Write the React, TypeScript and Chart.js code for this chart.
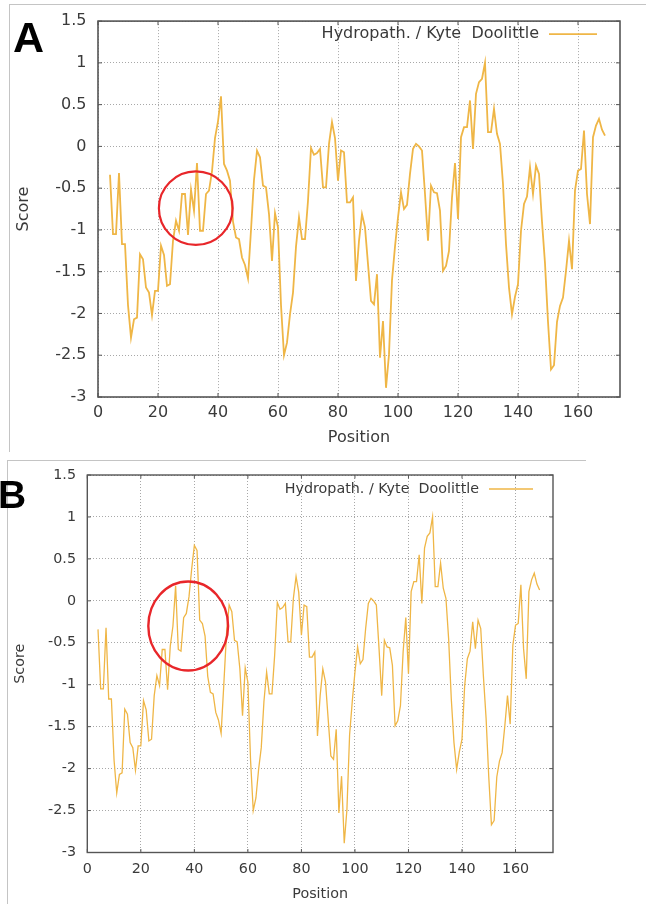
import React, { useEffect, useRef } from 'react';
import { Chart, registerables } from 'chart.js';

Chart.register(...registerables);

// ---------------- data ----------------
const FIRST_POSITION = 4;
const X_MAX = 174;
const xTickValues = [0, 20, 40, 60, 80, 100, 120, 140, 160];
const yTickValues = [-3, -2.5, -2, -1.5, -1, -0.5, 0, 0.5, 1, 1.5];
const LEGEND_LABEL = 'Hydropath. / Kyte  Doolittle';
const X_TITLE = 'Position';
const Y_TITLE = 'Score';

// positions 4..27 (same in both panels)
const headScores = [
  -0.34, -1.05, -1.05, -0.32, -1.17, -1.17, -1.9, -2.29, -2.07, -2.05,
  -1.29, -1.35, -1.69, -1.75, -2.02, -1.73, -1.73, -1.19, -1.3, -1.67,
  -1.65, -1.13, -0.89, -1.01,
];
// positions 28..44 (panel A)
const regionScoresA = [
  -0.57, -0.57, -1.06, -0.52, -0.77, -0.2, -1.01, -1.01, -0.57, -0.53,
  -0.3, 0.1, 0.3, 0.6, -0.21, -0.29, -0.41,
];
// positions 28..44 (panel B)
const regionScoresB = [
  -0.58, -0.58, -1.06, -0.54, -0.3, 0.18, -0.58, -0.6, -0.2, -0.15,
  0.05, 0.38, 0.66, 0.6, -0.23, -0.27, -0.42,
];
// positions 45..169 (same in both panels)
const tailScores = [
  -0.9, -1.09, -1.11, -1.33, -1.42, -1.58, -1.0, -0.4, -0.05, -0.13,
  -0.47, -0.49, -0.81, -1.37, -0.8, -0.97, -1.9, -2.5, -2.35, -2.01,
  -1.75, -1.2, -0.85, -1.11, -1.11, -0.65, -0.02, -0.1, -0.08, -0.03,
  -0.49, -0.49, 0.03, 0.29, 0.1, -0.41, -0.05, -0.07, -0.67, -0.67,
  -0.61, -1.61, -1.13, -0.81, -0.97, -1.41, -1.85, -1.89, -1.53, -2.53,
  -2.09, -2.89, -2.49, -1.6, -1.2, -0.85, -0.55, -0.75, -0.7, -0.33,
  -0.03, 0.03, 0.0, -0.05, -0.57, -1.13, -0.47, -0.55, -0.56, -0.77,
  -1.49, -1.43, -1.25, -0.61, -0.2, -0.87, 0.11, 0.23, 0.23, 0.55,
  -0.03, 0.63, 0.77, 0.81, 1.0, 0.17, 0.17, 0.45, 0.15, 0.03,
  -0.45, -1.17, -1.69, -2.01, -1.8, -1.65, -1.01, -0.69, -0.6, -0.25,
  -0.57, -0.23, -0.33, -0.9, -1.4, -2.1, -2.67, -2.62, -2.1, -1.91,
  -1.81, -1.49, -1.13, -1.47, -0.53, -0.29, -0.27, 0.19, -0.57, -0.93,
  0.11, 0.25, 0.33, 0.2, 0.13,
];

const scoresA = [...headScores, ...regionScoresA, ...tailScores];
const scoresB = [...headScores, ...regionScoresB, ...tailScores];

// highlighted regions (data units: centre position/score, radii in position/score units)
const highlightA = { x: 32.6, y: -0.74, rx: 12.3, ry: 0.44 };
const highlightB = { x: 37.7, y: -0.3, rx: 14.9, ry: 0.53 };

// ---------------- styles / layout ----------------
const FONT = "'DejaVu Sans', 'Noto Sans', sans-serif";
const TEXT_COLOR = '#3a3a3a';
const LINE_COLOR = '#EFB646';
const GRID_COLOR = '#a8a8a8';
const BORDER_COLOR = '#555555';
const CIRCLE_COLOR = '#e8262a';

type PanelSpec = {
  key: string;
  left: number;
  top: number;
  width: number;
  height: number;
  scores: number[];
  highlight: { x: number; y: number; rx: number; ry: number };
  fontSize: number;
  lineWidth: number;
  padTop: number;
  padRight: number;
  yAxisWidth: number;
  xAxisHeight: number;
  yTickPad: number;
  xTickPad: number;
  yTitlePad: number;
  xTitlePad: number;
  legendTextFromRight: number;
  legendLineFrom: number;
  legendLineTo: number;
  legendDy: number;
  frameWidth: number;
  tickLen: number;
  circleWidth: number;
};

const panelA: PanelSpec = {
  key: 'A',
  left: 0,
  top: 0,
  width: 646,
  height: 455,
  scores: scoresA,
  highlight: highlightA,
  fontSize: 16,
  lineWidth: 1.8,
  padTop: 20,
  padRight: 26,
  yAxisWidth: 98,
  xAxisHeight: 58,
  yTickPad: 11.5,
  xTickPad: 6.1,
  yTitlePad: 14.4,
  xTitlePad: 7.9,
  legendTextFromRight: 81,
  legendLineFrom: 71,
  legendLineTo: 23,
  legendDy: 13,
  frameWidth: 1.6,
  tickLen: 4,
  circleWidth: 2.2,
};

const panelB: PanelSpec = {
  key: 'B',
  left: 0,
  top: 455,
  width: 646,
  height: 449,
  scores: scoresB,
  highlight: highlightB,
  fontSize: 14.3,
  lineWidth: 1.3,
  padTop: 20,
  padRight: 93,
  yAxisWidth: 87.3,
  xAxisHeight: 51.5,
  yTickPad: 11.3,
  xTickPad: 7.9,
  yTitlePad: 11.9,
  xTitlePad: 1.4,
  legendTextFromRight: 74,
  legendLineFrom: 64,
  legendLineTo: 20,
  legendDy: 14,
  frameWidth: 1.4,
  tickLen: 3.5,
  circleWidth: 2.4,
};

const decorPlugin = {
  id: 'decor',
  afterDraw(chart: any, _args: any, o: any) {
    const { ctx, chartArea: a } = chart;
    const x = chart.scales.x;
    const y = chart.scales.y;
    ctx.save();
    // inward tick marks on all four sides
    ctx.strokeStyle = BORDER_COLOR;
    ctx.lineWidth = 1;
    ctx.beginPath();
    for (const t of x.ticks) {
      const px = x.getPixelForValue(t.value);
      ctx.moveTo(px, a.bottom);
      ctx.lineTo(px, a.bottom - o.tickLen);
      ctx.moveTo(px, a.top);
      ctx.lineTo(px, a.top + o.tickLen);
    }
    for (const t of y.ticks) {
      const py = y.getPixelForValue(t.value);
      ctx.moveTo(a.left, py);
      ctx.lineTo(a.left + o.tickLen, py);
      ctx.moveTo(a.right, py);
      ctx.lineTo(a.right - o.tickLen, py);
    }
    ctx.stroke();
    // plot border
    ctx.lineWidth = o.frameWidth;
    ctx.strokeRect(a.left, a.top, a.right - a.left, a.bottom - a.top);
    // key
    const ly = a.top + o.legendDy;
    ctx.font = `${o.fontSize}px ${FONT}`;
    ctx.fillStyle = TEXT_COLOR;
    ctx.textAlign = 'right';
    ctx.textBaseline = 'middle';
    ctx.fillText(o.legendText, a.right - o.legendTextFromRight, ly);
    ctx.strokeStyle = LINE_COLOR;
    ctx.lineWidth = o.lineWidth;
    ctx.beginPath();
    ctx.moveTo(a.right - o.legendLineFrom, ly);
    ctx.lineTo(a.right - o.legendLineTo, ly);
    ctx.stroke();
    // highlight ellipse
    const h = o.highlight;
    const cx = x.getPixelForValue(h.x);
    const cy = y.getPixelForValue(h.y);
    const rx = x.getPixelForValue(h.x + h.rx) - cx;
    const ry = cy - y.getPixelForValue(h.y + h.ry);
    ctx.strokeStyle = CIRCLE_COLOR;
    ctx.lineWidth = o.circleWidth;
    ctx.beginPath();
    ctx.ellipse(cx, cy, rx, ry, 0, 0, Math.PI * 2);
    ctx.stroke();
    ctx.restore();
  },
};

function buildConfig(spec: PanelSpec): any {
  const font = { family: FONT, size: spec.fontSize };
  const points = spec.scores.map((v, i) => ({ x: FIRST_POSITION + i, y: v }));
  return {
    type: 'line',
    data: {
      datasets: [
        {
          label: LEGEND_LABEL,
          data: points,
          borderColor: LINE_COLOR,
          borderWidth: spec.lineWidth,
          pointRadius: 0,
          tension: 0,
          fill: false,
        },
      ],
    },
    options: {
      animation: false,
      responsive: false,
      maintainAspectRatio: false,
      events: [],
      layout: { padding: { left: 0, top: spec.padTop, right: spec.padRight, bottom: 0 } },
      plugins: {
        legend: { display: false },
        tooltip: { enabled: false },
        decor: {
          tickLen: spec.tickLen,
          frameWidth: spec.frameWidth,
          fontSize: spec.fontSize,
          legendText: LEGEND_LABEL,
          legendTextFromRight: spec.legendTextFromRight,
          legendLineFrom: spec.legendLineFrom,
          legendLineTo: spec.legendLineTo,
          legendDy: spec.legendDy,
          lineWidth: spec.lineWidth,
          highlight: spec.highlight,
          circleWidth: spec.circleWidth,
        },
      },
      scales: {
        x: {
          type: 'linear',
          min: 0,
          max: X_MAX,
          afterBuildTicks: (s: any) => {
            s.ticks = xTickValues.map((v) => ({ value: v }));
          },
          afterFit: (s: any) => {
            s.height = spec.xAxisHeight;
          },
          ticks: {
            autoSkip: false,
            maxRotation: 0,
            minRotation: 0,
            padding: spec.xTickPad,
            font,
            color: TEXT_COLOR,
            callback: (v: number) => String(v),
          },
          grid: { color: GRID_COLOR, lineWidth: 1, drawTicks: false },
          border: { display: false, dash: [1, 2] },
          title: {
            display: true,
            text: X_TITLE,
            font,
            color: TEXT_COLOR,
            padding: { top: 0, bottom: spec.xTitlePad },
          },
        },
        y: {
          type: 'linear',
          min: -3,
          max: 1.5,
          afterBuildTicks: (s: any) => {
            s.ticks = yTickValues.map((v) => ({ value: v }));
          },
          afterFit: (s: any) => {
            s.width = spec.yAxisWidth;
          },
          ticks: {
            autoSkip: false,
            padding: spec.yTickPad,
            font,
            color: TEXT_COLOR,
            callback: (v: number) => String(v),
          },
          grid: { color: GRID_COLOR, lineWidth: 1, drawTicks: false },
          border: { display: false, dash: [1, 2] },
          title: {
            display: true,
            text: Y_TITLE,
            font,
            color: TEXT_COLOR,
            padding: { top: spec.yTitlePad, bottom: 0 },
          },
        },
      },
    },
    plugins: [decorPlugin],
  };
}

function Panel({ spec }: { spec: PanelSpec }) {
  const ref = useRef<HTMLCanvasElement | null>(null);
  useEffect(() => {
    if (!ref.current) return;
    const chart = new Chart(ref.current, buildConfig(spec));
    return () => chart.destroy();
  }, [spec]);
  return (
    <canvas
      ref={ref}
      width={spec.width}
      height={spec.height}
      style={{
        position: 'absolute',
        left: spec.left,
        top: spec.top,
        width: spec.width,
        height: spec.height,
        display: 'block',
      }}
    />
  );
}

const FRAME = '#c4c4c4';

export default function App() {
  return (
    <div
      style={{
        position: 'absolute',
        left: 0,
        top: 0,
        width: 646,
        height: 904,
        background: '#ffffff',
        overflow: 'hidden',
      }}
    >
      {/* panel frames */}
      <div style={{ position: 'absolute', left: 9, top: 4, width: 637, height: 0, borderTop: `1px solid ${FRAME}` }} />
      <div style={{ position: 'absolute', left: 9, top: 4, width: 0, height: 448, borderLeft: `1px solid ${FRAME}` }} />
      <div style={{ position: 'absolute', left: 7, top: 460, width: 579, height: 0, borderTop: `1px solid ${FRAME}` }} />
      <div style={{ position: 'absolute', left: 7, top: 460, width: 0, height: 444, borderLeft: `1px solid ${FRAME}` }} />

      <Panel spec={panelA} />
      <Panel spec={panelB} />

      <div
        style={{
          position: 'absolute',
          left: 13,
          top: 16.4,
          font: "bold 43px 'Liberation Sans', Arial, sans-serif",
          lineHeight: '43px',
          color: '#000',
        }}
      >
        A
      </div>
      <div
        style={{
          position: 'absolute',
          left: -2,
          top: 475,
          font: "bold 39px 'Liberation Sans', Arial, sans-serif",
          lineHeight: '39px',
          color: '#000',
        }}
      >
        B
      </div>
    </div>
  );
}
